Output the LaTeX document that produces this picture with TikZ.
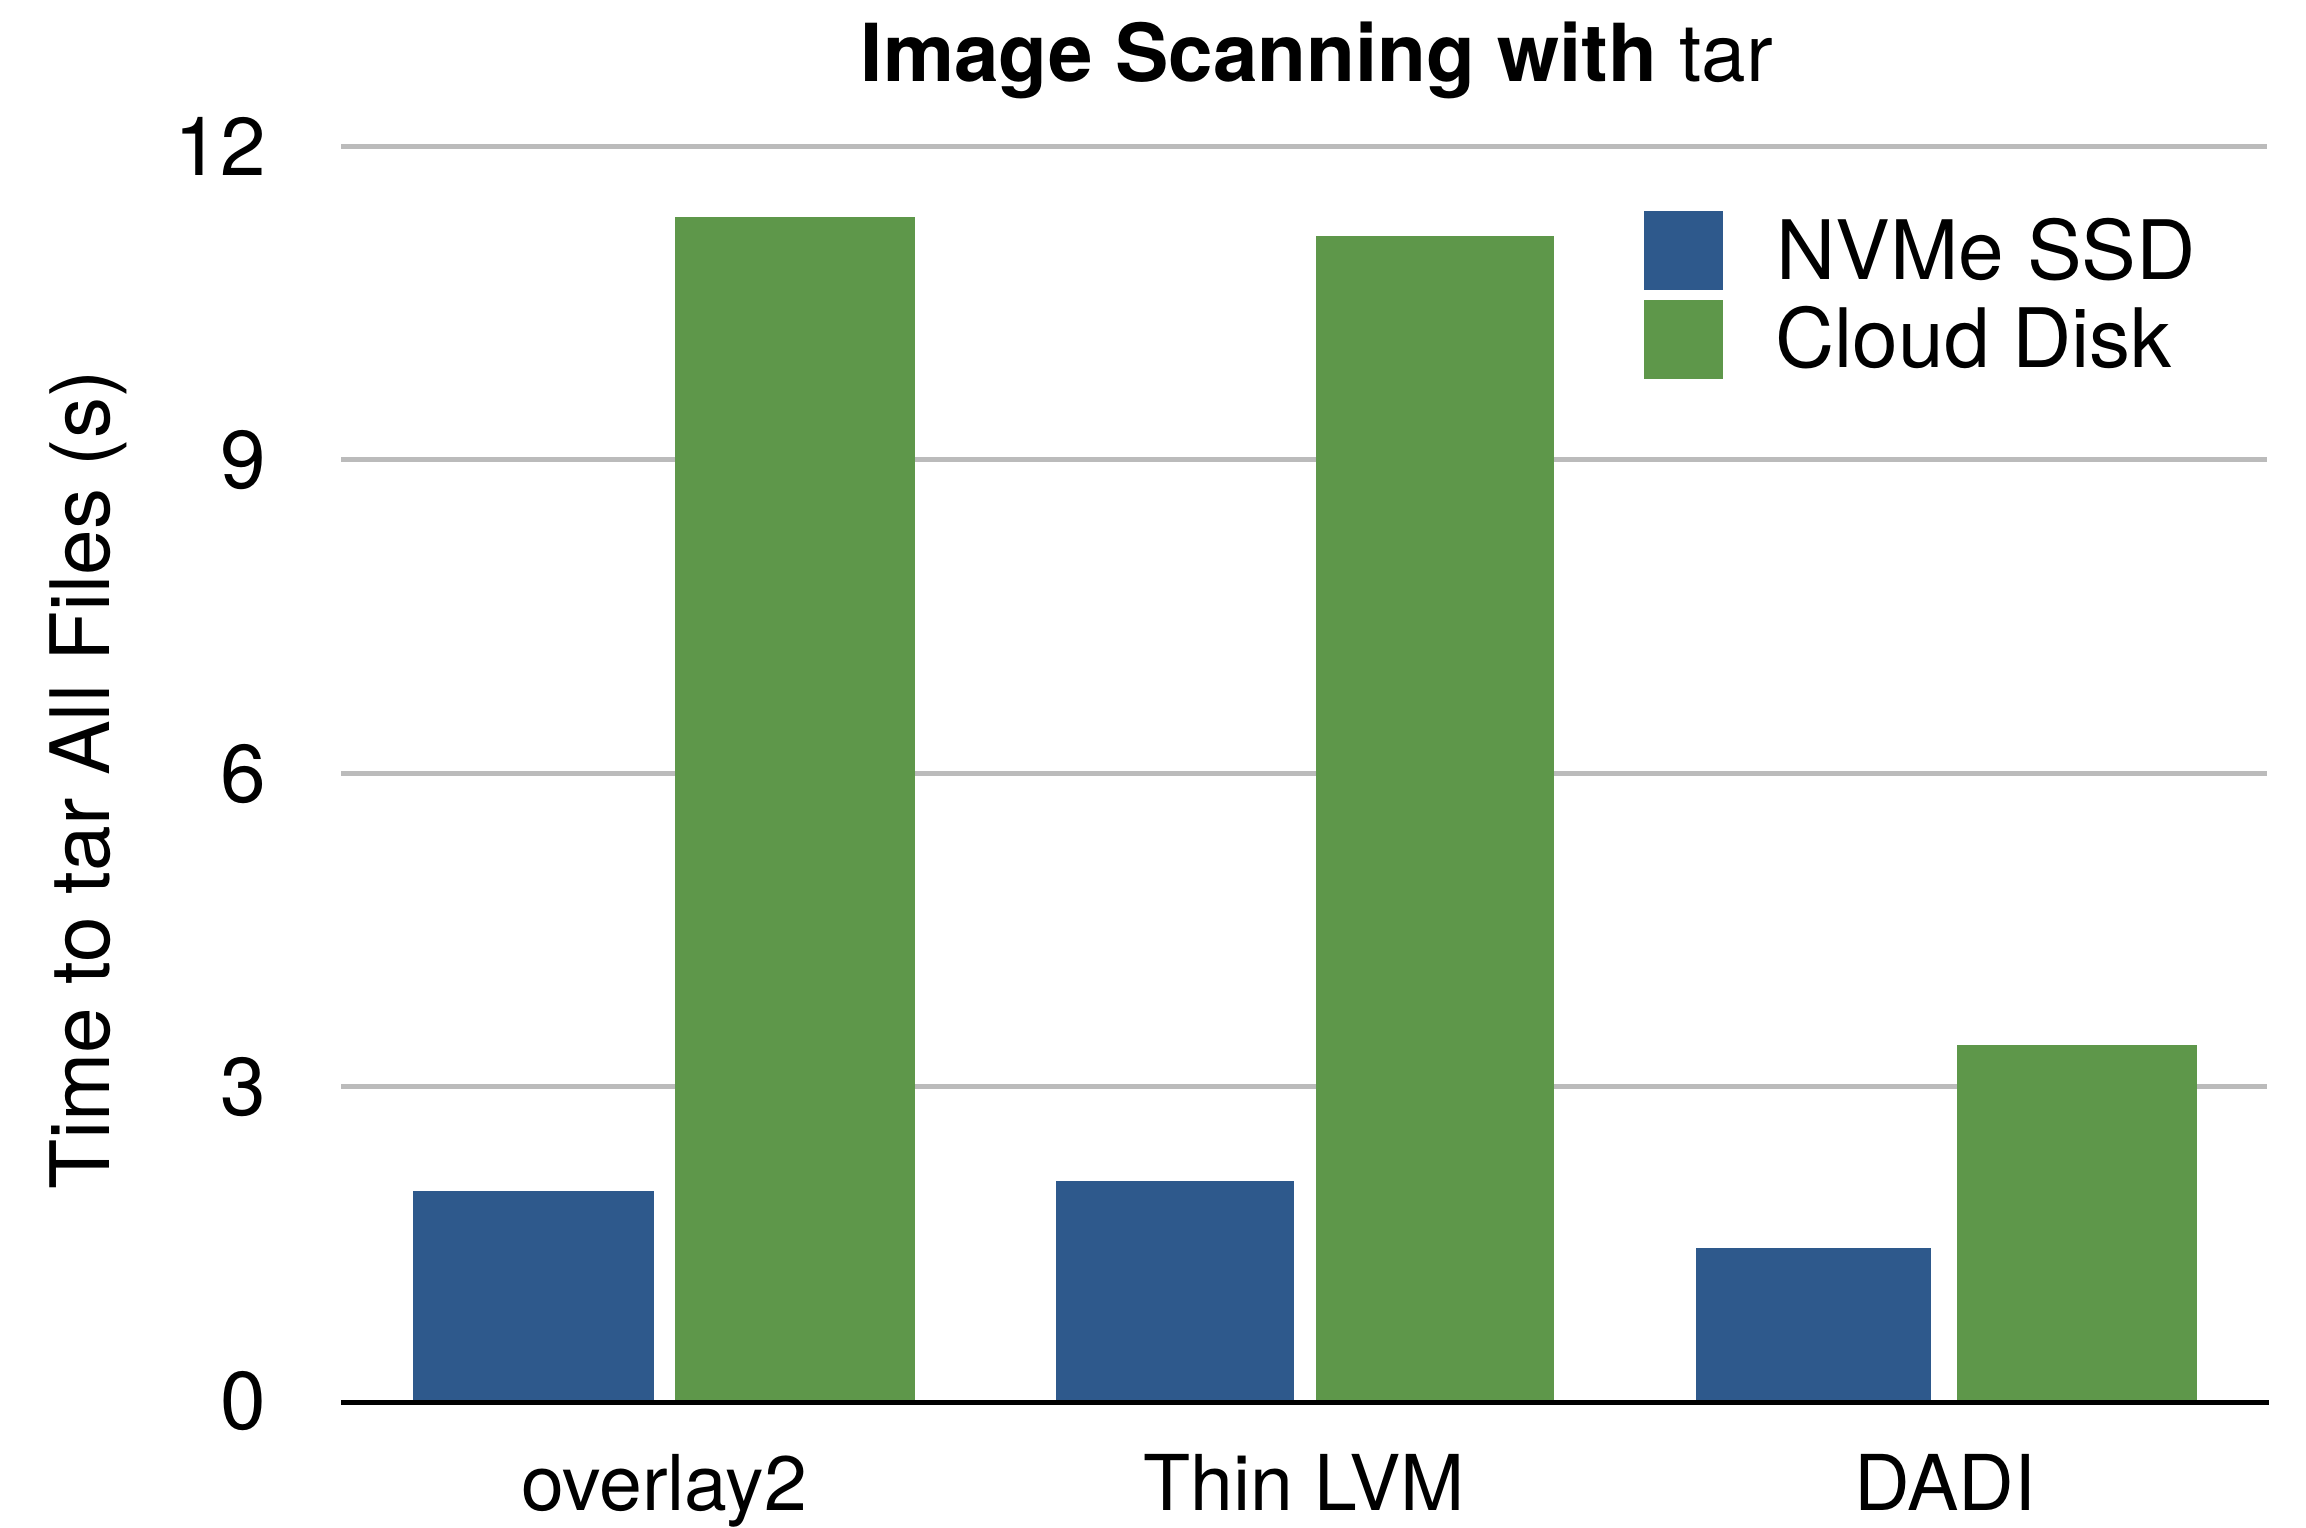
\documentclass[tikz,border=0pt]{standalone}
\usepackage{fontspec}
\setmainfont{TeX Gyre Heros}
\definecolor{ssdblue}{RGB}{46,89,140}
\definecolor{cloudgreen}{RGB}{94,151,74}
\definecolor{gridgray}{RGB}{187,187,187}
\begin{document}
\begin{tikzpicture}[x=0.5pt,y=-0.5pt,
  ticklabel/.style={anchor=base east,inner sep=0pt,font=\fontsize{41}{49}\selectfont},
  catlabel/.style={anchor=base,inner sep=0pt,font=\fontsize{38.5}{46}\selectfont},
  legendlabel/.style={anchor=base west,inner sep=0pt,font=\fontsize{41}{49}\selectfont},
  gridline/.style={draw=gridgray,line width=2.5pt},
  ssdbar/.style={fill=ssdblue},
  cloudbar/.style={fill=cloudgreen}]
% canvas
\useasboundingbox (0,0) rectangle (2306,1527);
\fill[white] (0,0) rectangle (2306,1527);

% value axis: 0 at y=1400, 104.45 px per second
\foreach \v in {3,6,9,12}
  \draw[gridline] (341,{1400-104.45*\v}) -- (2267,{1400-104.45*\v});
\foreach \v/\n in {0/t0,3/t3,6/t6,9/t9,12/t12}
  \node[ticklabel] (\n) at (266,{1400-104.45*\v+29}) {\v};

% bars (seconds)
\fill[ssdbar]   (413,1400) rectangle (654,{1400-104.45*2.00});
\fill[cloudbar] (675,1400) rectangle (915,{1400-104.45*11.33});
\fill[ssdbar]   (1056,1400) rectangle (1294,{1400-104.45*2.10});
\fill[cloudbar] (1316,1400) rectangle (1554,{1400-104.45*11.14});
\fill[ssdbar]   (1696,1400) rectangle (1931,{1400-104.45*1.46});
\fill[cloudbar] (1957,1400) rectangle (2197,{1400-104.45*3.40});

% baseline
\draw[black,line width=2.5pt] (341,1402.5) -- (2269,1402.5);

% category labels
\node[catlabel] (overlay) at (664,1510) {overlay2};
\node[catlabel] (thinlvm) at (1304,1510) {Thin LVM};
\node[catlabel] (dadi)    at (1945,1510) {DADI};

% axis title
\node[anchor=base,inner sep=0pt,rotate=90,font=\fontsize{41}{49}\selectfont]
  (ylabel) at (109,780) {Time to tar All Files (s)};

% chart title
\node[anchor=base,inner sep=0pt,font=\fontsize{40}{48}\selectfont]
  (title) at (1317,81) {\textbf{Image Scanning with} tar};

% legend
\fill[ssdbar]   (1644,211) rectangle (1723,290);
\fill[cloudbar] (1644,300) rectangle (1723,379);
\node[legendlabel] (lssd)   at (1776,279.5) {NVMe SSD};
\node[legendlabel] (lcloud) at (1775,367.7) {Cloud Disk};
\end{tikzpicture}
\end{document}
